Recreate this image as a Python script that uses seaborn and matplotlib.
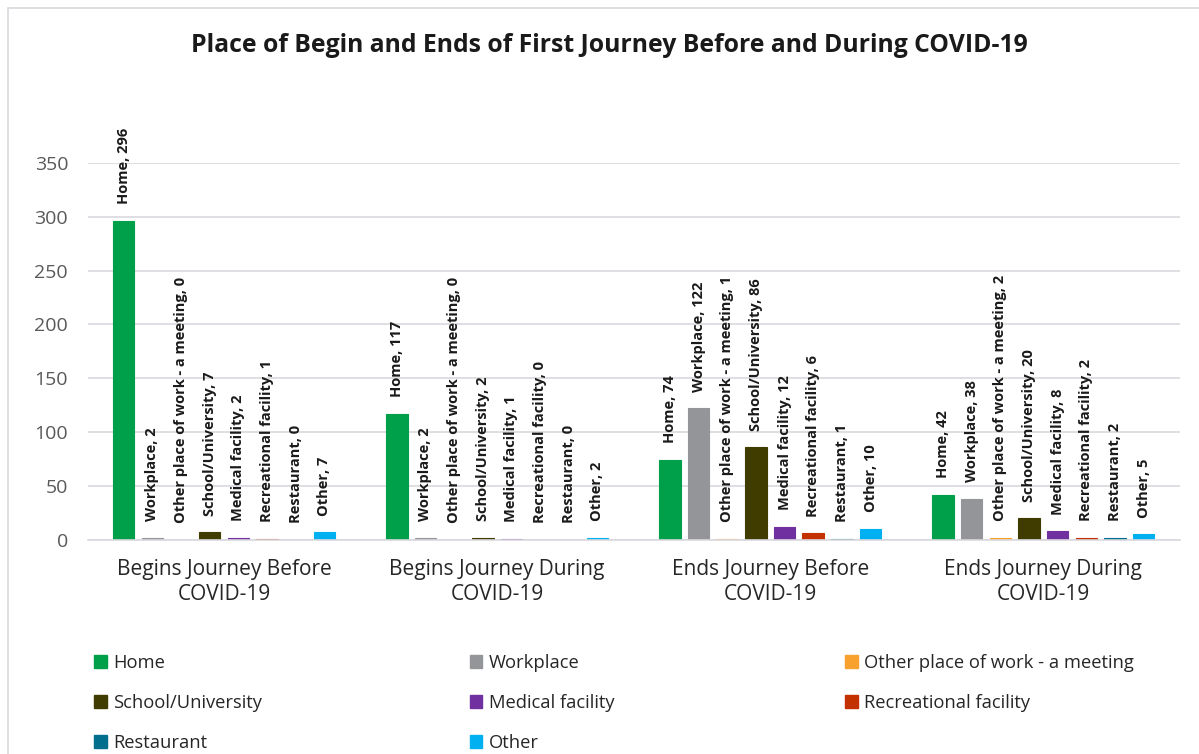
import pandas as pd
import seaborn as sns
import matplotlib.pyplot as plt
from matplotlib.patches import Rectangle

sns.set_style("white")
plt.rcParams["font.family"] = ["Open Sans", "DejaVu Sans"]

# ---------- Data -------------------------------------------------- #
groups = ["Begins Journey Before\nCOVID-19", "Begins Journey During\nCOVID-19",
          "Ends Journey Before\nCOVID-19", "Ends Journey During\nCOVID-19"]
places = ["Home", "Workplace", "Other place of work - a meeting",
          "School/University", "Medical facility", "Recreational facility",
          "Restaurant", "Other"]
begins_before = [296, 2, 0, 7, 2, 1, 0, 7]
begins_during = [117, 2, 0, 2, 1, 0, 0, 2]
ends_before   = [74, 122, 1, 86, 12, 6, 1, 10]
ends_during   = [42, 38, 2, 20, 8, 2, 2, 5]

colors = ["#00A04A", "#939598", "#F9A12E", "#403C00",
          "#7030A0", "#C33100", "#006E8C", "#00B0F0"]

rows = []
for g, vals in zip(groups, [begins_before, begins_during, ends_before, ends_during]):
    for p, v in zip(places, vals):
        rows.append({"group": g, "place": p, "count": v})
df = pd.DataFrame(rows)

# ---------- Plot -------------------------------------------------- #
fig = plt.figure(figsize=(11.99, 7.54), dpi=100)
ax = fig.add_axes([0.073, 0.284, 0.911, 0.5])

sns.barplot(data=df, x="group", y="count", hue="place", hue_order=places,
            palette=colors, width=0.84, gap=0.25, ax=ax, legend=False,
            saturation=1, linewidth=0.8)
for cont, c in zip(ax.containers, colors):
    for bar in cont:
        bar.set_edgecolor(c)

# bar labels
for cont, p in zip(ax.containers, places):
    for bar in cont:
        h = bar.get_height()
        ax.annotate(f"{p}, {int(h)}", (bar.get_x() + bar.get_width() / 2, h),
                    xytext=(0, 12), textcoords="offset points",
                    rotation=90, ha="center", va="bottom",
                    fontsize=10.5, fontweight="bold", color="#1a1a1a",
                    annotation_clip=False)

ax.set_ylim(0, 350)
ax.set_yticks(range(0, 351, 50))
ax.yaxis.grid(True, color="#D9D9DE", lw=1.2)
ax.set_axisbelow(True)
for s in ["top", "right", "left"]:
    ax.spines[s].set_visible(False)
ax.spines["bottom"].set_color("#D9D9DE")
ax.spines["bottom"].set_linewidth(1.2)
ax.tick_params(axis="y", labelsize=14, colors="#595959", length=0, pad=14)
ax.tick_params(axis="x", labelsize=15, colors="#262626", length=0, pad=14)
ax.set_xlabel(""); ax.set_ylabel("")

fig.text(0.508, 0.94, "Place of Begin and Ends of First Journey Before and During COVID-19",
         ha="center", va="center", fontsize=17.8, fontweight="bold", color="#1a1a1a")

# legend: three columns, filled row by row
handles = [Rectangle((0, 0), 1, 1, color=c) for c in colors]
col_x = [0.071, 0.384, 0.697]
for j, x in enumerate(col_x):
    idx = list(range(j, len(places), 3))
    fig.legend([handles[i] for i in idx], [places[i] for i in idx],
               loc="upper left", bbox_to_anchor=(x, 0.145), frameon=False,
               fontsize=13.2, handlelength=0.7, handleheight=0.7,
               handletextpad=0.35, labelspacing=1.2, borderpad=0)

fig.patches.append(Rectangle((0.007, -0.01), 1.0, 1.0, transform=fig.transFigure,
                             fill=False, edgecolor="#D9D9DE", lw=1.2))

fig.savefig("out.png", dpi=100)
